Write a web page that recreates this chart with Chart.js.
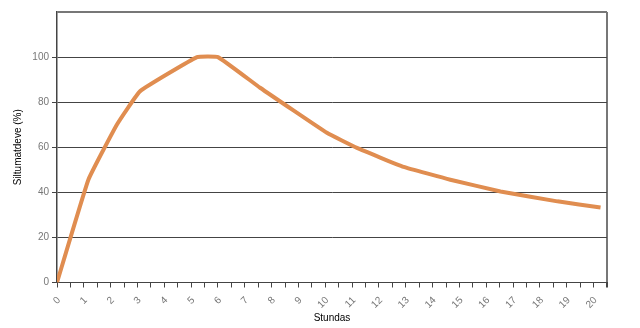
<!DOCTYPE html>
<html>
<head>
<meta charset="utf-8">
<script src="https://cdn.jsdelivr.net/npm/chart.js@4"></script>
<style>
  html, body { margin: 0; padding: 0; background: #fff; }
  #wrap { width: 640px; height: 328px; }
</style>
</head>
<body>
<div id="wrap"><canvas id="heatChart" width="640" height="328"></canvas></div>
<script>
// hours, values in %
const hours = [0, 1.17, 2.23, 3.1, 5.22, 6.0, 7.57, 10.06, 11.18, 12.92, 14.66, 16.53, 18.65, 20.26];
const values = [0, 45.6, 70, 84.9, 100, 100, 86.4, 66.4, 59.7, 51.3, 45.6, 40.4, 36, 33.3];
const yTicks = [0, 20, 40, 60, 80, 100];

const points = hours.map((h, i) => ({ x: h, y: values[i] }));
const font = { family: "Arial, 'Liberation Sans', Helvetica, sans-serif", size: 10 };

new Chart(document.getElementById("heatChart"), {
  type: "line",
  data: {
    datasets: [{
      label: "Siltumatdeve",
      data: points,
      borderColor: "#E08D50",
      borderWidth: 4,
      pointRadius: 0,
      tension: 0.1,
      fill: false
    }]
  },
  options: {
    responsive: false,
    animation: false,
    layout: { padding: { left: 12, top: 12, right: 33, bottom: 0 } },
    plugins: { legend: { display: false }, tooltip: { enabled: false } },
    scales: {
      x: {
        type: "linear",
        min: 0,
        max: 20.5,
        afterFit: s => { s.height = 45.5; },
        ticks: {
          stepSize: 0.5,
          autoSkip: false,
          minRotation: 45,
          maxRotation: 45,
          padding: 7,
          labelOffset: 2,
          color: "#777",
          font: font,
          callback: v => (v % 1 === 0 ? String(v) : "")
        },
        grid: {
          drawOnChartArea: true,
          tickLength: 5,
          tickColor: "#444",
          lineWidth: ctx => (ctx.tick && ctx.tick.value === 20.5 ? 2 : 1),
          color: ctx => (ctx.tick && ctx.tick.value === 20.5 ? "#777" : "rgba(0,0,0,0)")
        },
        border: { display: true, color: "#444", width: 1 },
        title: { display: true, text: "Stundas", color: "#000", font: font, padding: { top: 0, bottom: 4 } }
      },
      y: {
        min: 0,
        max: 120,
        afterFit: s => { s.width = 45; },
        ticks: {
          stepSize: 20,
          padding: 3,
          color: "#777",
          font: font,
          callback: v => (yTicks.includes(v) ? String(v) : "")
        },
        grid: {
          tickLength: 5,
          tickColor: ctx => (ctx.tick && ctx.tick.value === 120 ? "rgba(0,0,0,0)" : "#444"),
          lineWidth: ctx => (ctx.tick && ctx.tick.value === 120 ? 2 : 1),
          color: ctx => (ctx.tick && ctx.tick.value === 120 ? "#777" : "#444")
        },
        border: { display: true, color: "#444", width: 1.5 },
        title: { display: true, text: "Siltumatdeve (%)", color: "#000", font: font, padding: { top: 0, bottom: 4 } }
      }
    }
  }
});
</script>
</body>
</html>
